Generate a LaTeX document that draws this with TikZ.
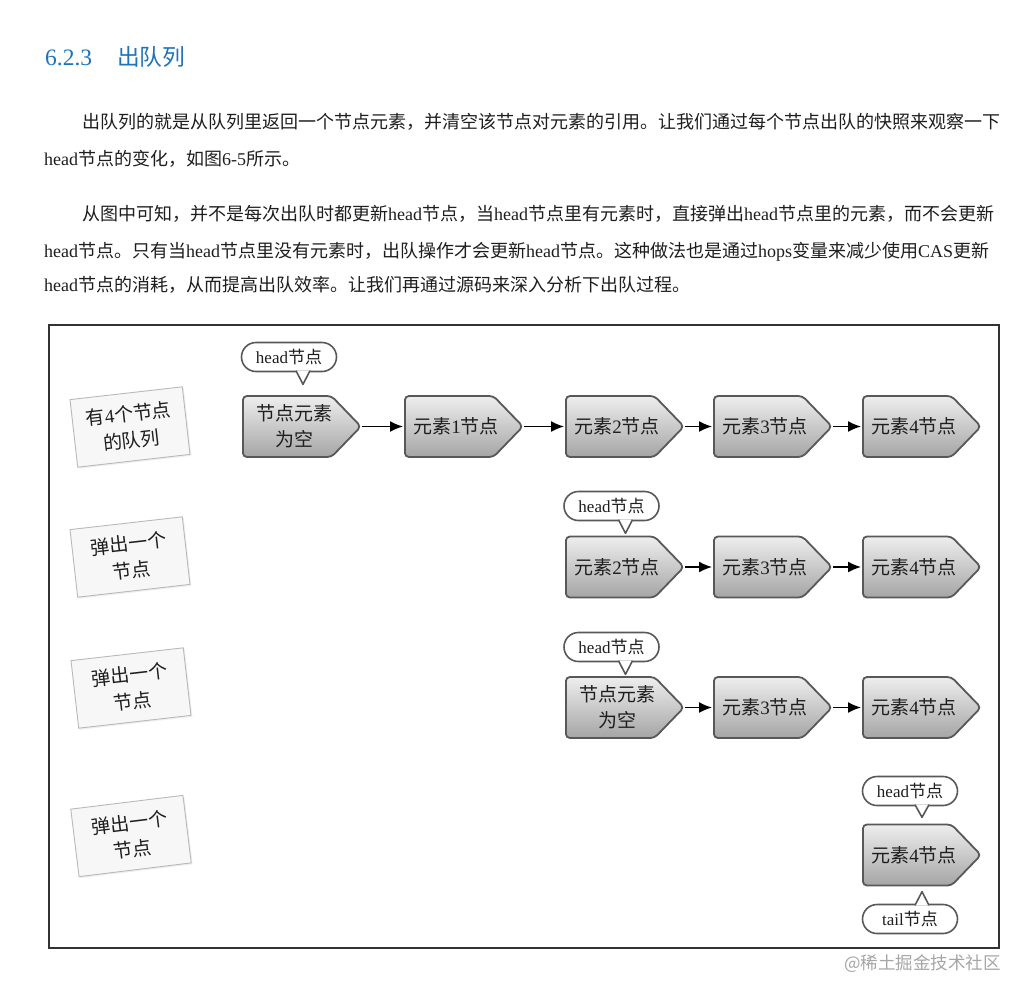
\documentclass[tikz,border=0pt]{standalone}
\usepackage{fontspec}
\setmainfont{Noto Sans CJK SC}
\newfontfamily\lat{Liberation Serif}
\usetikzlibrary{shapes.symbols,shapes.misc,arrows.meta,calc,shadows}
\XeTeXlinebreaklocale "zh"
\XeTeXlinebreakskip=0pt plus 2pt minus 0.6pt
\definecolor{titleblue}{RGB}{31,115,183}
\definecolor{nodeedge}{RGB}{88,88,88}
\definecolor{txt}{RGB}{30,30,30}
\definecolor{ntop}{RGB}{238,238,238}
\definecolor{nbot}{RGB}{165,165,165}
\tikzset{
  qnode/.style={signal, signal to=east, signal pointer angle=92,
    minimum width=118pt, minimum height=61pt, inner sep=0pt, anchor=west,
    draw=nodeedge, line width=1.8pt, rounded corners=4pt,
    top color=ntop, bottom color=nbot,
    label={[qlab]center:{#1}}},
  qlab/.style={xshift=7pt, align=center, text=txt, inner sep=0pt,
    font=\fontsize{19}{26}\selectfont},
  pill/.style={rounded rectangle, draw=nodeedge, line width=1.6pt, fill=white,
    minimum width=95pt, minimum height=29pt, inner sep=0pt, text=txt,
    font=\fontsize{17}{20}\selectfont},
  tailline/.style={draw=nodeedge, line width=1.6pt, fill=white, line join=round},
  labelbox/.style={rectangle, draw=gray!55, line width=0.9pt, fill=gray!6,
    minimum width=113pt, minimum height=68pt, align=center, text=txt,
    font=\fontsize{19}{27}\selectfont, drop shadow={opacity=0.12, shadow xshift=1.5pt, shadow yshift=-1.5pt}},
  arr/.style={draw=black, line width=1.5pt, -{Latex[length=13pt,width=11pt]}, shorten >=1pt},
  para/.style={anchor=base west, inner sep=0pt, text=txt, font=\fontsize{18}{22}\selectfont},
}
\begin{document}
\begin{tikzpicture}[x=1pt, y=-1pt]
\useasboundingbox (0,0) rectangle (1028,999);
\fill[white] (0,0) rectangle (1028,999);

% title
\node[anchor=base west, inner sep=0pt, text=titleblue, font=\lat\fontsize{23.5}{26}\selectfont] (tnum) at (45,65) {6.2.3};
\node[anchor=base west, inner sep=0pt, text=titleblue, font=\fontsize{22.7}{26}\selectfont] (ttl) at (117,65) {出队列};

% paragraphs
\node[para] (p1a) at (82,128) {\makebox[918pt][s]{出队列的就是从队列里返回一个节点元素，并清空该节点对元素的引用。让我们通过每个节点出队的快照来观察一下}};
\node[para] (p1b) at (44,165) {{\lat head}节点的变化，如图{\lat 6-5}所示。};
\node[para] (p2a) at (82,220) {\makebox[915pt][s]{从图中可知，并不是每次出队时都更新{\lat head}节点，当{\lat head}节点里有元素时，直接弹出{\lat head}节点里的元素，而不会更新}};
\node[para] (p2b) at (44,257) {\makebox[950pt][s]{{\lat head}节点。只有当{\lat head}节点里没有元素时，出队操作才会更新{\lat head}节点。这种做法也是通过{\lat hops}变量来减少使用{\lat CAS}更新}};
\node[para] (p2c) at (44,291) {\makebox[641pt][s]{{\lat head}节点的消耗，从而提高出队效率。让我们再通过源码来深入分析下出队过程。}};

% frame
\draw[draw=black!80, line width=2pt] (49,325) rectangle (999,948);

% left labels
\node[labelbox, rotate=6.5] (L1) at (130,427) {有{\lat 4}个节点\\的队列};
\node[labelbox, rotate=6.5] (L2) at (130,557) {弹出一个\\节点};
\node[labelbox, rotate=6.5] (L3) at (131,688) {弹出一个\\节点};
\node[labelbox, rotate=7] (L4) at (131,836) {弹出一个\\节点};

% row 1
\node[qnode={节点元素\\为空}] (r1a) at (242,426.5) {};
\node[qnode={元素{\lat 1}节点}] (r1b) at (404,426.5) {};
\node[qnode={元素{\lat 2}节点}] (r1c) at (565,426.5) {};
\node[qnode={元素{\lat 3}节点}] (r1d) at (713,426.5) {};
\node[qnode={元素{\lat 4}节点}] (r1e) at (862,426.5) {};
\draw[arr] (r1a.east) -- (r1b.west);
\draw[arr] (r1b.east) -- (r1c.west);
\draw[arr] (r1c.east) -- (r1d.west);
\draw[arr] (r1d.east) -- (r1e.west);

% row 2
\node[qnode={元素{\lat 2}节点}] (r2a) at (565,567) {};
\node[qnode={元素{\lat 3}节点}] (r2b) at (713,567) {};
\node[qnode={元素{\lat 4}节点}] (r2c) at (862,567) {};
\draw[arr] (r2a.east) -- (r2b.west);
\draw[arr] (r2b.east) -- (r2c.west);

% row 3
\node[qnode={节点元素\\为空}] (r3a) at (565,707.5) {};
\node[qnode={元素{\lat 3}节点}] (r3b) at (713,707.5) {};
\node[qnode={元素{\lat 4}节点}] (r3c) at (862,707.5) {};
\draw[arr] (r3a.east) -- (r3b.west);
\draw[arr] (r3b.east) -- (r3c.west);

% row 4
\node[qnode={元素{\lat 4}节点}] (r4a) at (862,855) {};

% callouts
\node[pill] (h1) at (289,357) {{\lat head}节点};
\node[pill] (h2) at (611.5,506) {{\lat head}节点};
\node[pill] (h3) at (611.5,647) {{\lat head}节点};
\node[pill] (h4) at (910,791) {{\lat head}节点};
\node[pill] (t4) at (910,919) {{\lat tail}节点};

\coordinate (h1tip) at ($(h1.south)+(14,12)$);
\coordinate (h2tip) at ($(h2.south)+(14,12)$);
\coordinate (h3tip) at ($(h3.south)+(14,12)$);
\coordinate (h4tip) at ($(h4.south)+(12,11)$);
\coordinate (t4tip) at ($(t4.north)+(12,-12)$);
\path[tailline] ($(h1.south)+(7,-1.6)$) -- (h1tip) -- ($(h1.south)+(21,-1.6)$);
\path[tailline] ($(h2.south)+(7,-1.6)$) -- (h2tip) -- ($(h2.south)+(21,-1.6)$);
\path[tailline] ($(h3.south)+(7,-1.6)$) -- (h3tip) -- ($(h3.south)+(21,-1.6)$);
\path[tailline] ($(h4.south)+(5,-1.6)$) -- (h4tip) -- ($(h4.south)+(19,-1.6)$);
\path[tailline] ($(t4.north)+(5,1.6)$) -- (t4tip) -- ($(t4.north)+(19,1.6)$);

% watermark
\node[anchor=base east, inner sep=0pt, text=black!35, font=\fontsize{17.5}{20}\selectfont] (wm) at (1001,969) {@稀土掘金技术社区};
\end{tikzpicture}
\end{document}
